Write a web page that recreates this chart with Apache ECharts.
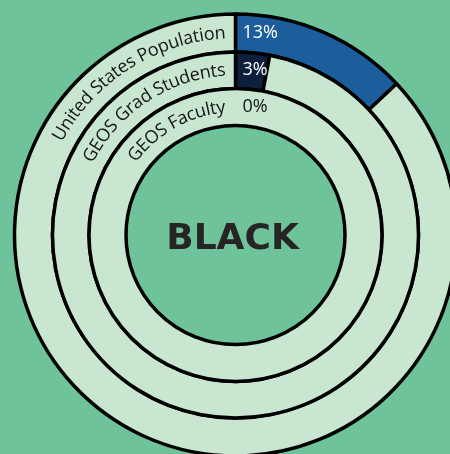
<!DOCTYPE html>
<html>
<head>
<meta charset="utf-8">
<script src="https://cdn.jsdelivr.net/npm/echarts@6/dist/echarts.min.js"></script>
<style>
  html, body { margin: 0; padding: 0; background: #6fc39a; }
  #main { width: 450px; height: 454px; }
</style>
</head>
<body>
<div id="main"></div>
<script>
// data
var groups = ["United States Population", "GEOS Grad Students", "GEOS Faculty"];
var blackShare = [13, 3, 0];
var centerTitle = "BLACK";

// layout
var cx = 235.5, cy = 235;
var ringR = [[183, 221], [146.5, 183], [109.5, 146.5]];
var shareColors = ["#1b5e9b", "#0e1f3e", "#0e1f3e"];
var restColor = "#c8e6d0";
var labelFont = "18px 'Open Sans'";

var measure = document.createElement("canvas").getContext("2d");

// text bent along a ring, ending just left of 12 o'clock
function arcText(text, r, gap) {
  measure.font = labelFont;
  var total = measure.measureText(text).width;
  var els = [];
  for (var i = 0; i < text.length; i++) {
    var ch = text[i];
    if (ch === " ") continue;
    var pre = measure.measureText(text.slice(0, i)).width;
    var w = measure.measureText(ch).width;
    var phi = -(gap + total - pre - w / 2) / r;
    els.push({
      type: "text",
      z: 100,
      x: cx + r * Math.sin(phi),
      y: cy - r * Math.cos(phi),
      rotation: -phi,
      silent: true,
      style: {
        text: ch, font: labelFont, fill: "#151515",
        textAlign: "center", textVerticalAlign: "middle",
        align: "center", verticalAlign: "middle"
      }
    });
  }
  return els;
}

var graphics = [];
groups.forEach(function (g, i) {
  var mid = (ringR[i][0] + ringR[i][1]) / 2;
  graphics = graphics.concat(arcText(g, mid, 10));
  graphics.push({
    type: "text",
    z: 100,
    x: cx + 7, y: cy - mid,
    silent: true,
    style: {
      text: blackShare[i] + "%", font: labelFont,
      fill: blackShare[i] > 0 ? "#ffffff" : "#151515",
      textAlign: "left", textVerticalAlign: "middle",
      align: "left", verticalAlign: "middle"
    }
  });
});
graphics.push({
  type: "text",
  z: 100,
  x: cx - 3, y: cy + 5,
  silent: true,
  style: {
    text: centerTitle, font: "bold 36px 'DejaVu Sans'", fill: "#262425",
    textAlign: "center", textVerticalAlign: "middle",
    align: "center", verticalAlign: "middle"
  }
});

var myChart = echarts.init(document.getElementById("main"));
var option = {
  backgroundColor: "#6fc39a",
  animation: false,
  series: groups.map(function (g, i) {
    return {
      type: "pie",
      name: g,
      center: [cx, cy],
      radius: ringR[i],
      startAngle: 90,
      clockwise: true,
      silent: true,
      label: { show: false },
      labelLine: { show: false },
      emphasis: { disabled: true },
      itemStyle: { borderColor: "#000", borderWidth: 3.5 },
      data: [
        { name: "Black", value: blackShare[i],
          itemStyle: { color: shareColors[i], borderWidth: blackShare[i] > 0 ? 3.5 : 0 } },
        { name: "Other", value: 100 - blackShare[i], itemStyle: { color: restColor } }
      ]
    };
  }),
  graphic: graphics
};
myChart.setOption(option);
</script>
</body>
</html>
